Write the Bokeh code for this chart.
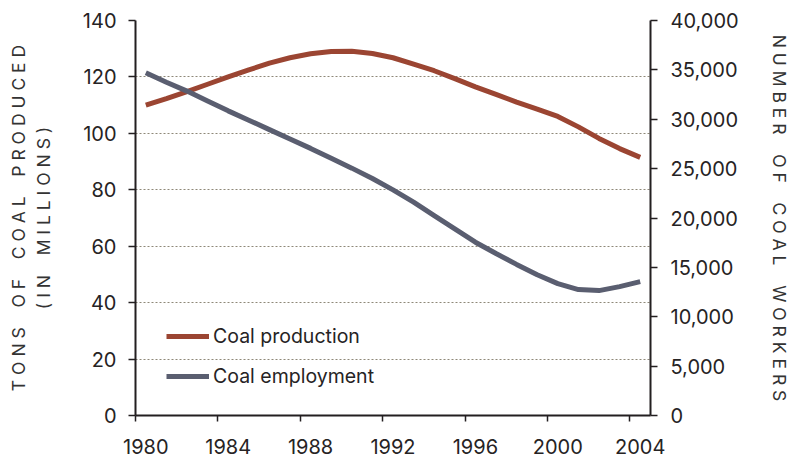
from bokeh.plotting import figure
from bokeh.models import Range1d, LinearAxis, FixedTicker, NumeralTickFormatter
from bokeh.embed import file_html
from bokeh.resources import INLINE

# ---- data ----
years = list(range(1980, 2005))
production = [110.0, 112.3, 114.8, 117.4, 120.0, 122.5, 124.9, 126.8, 128.2, 129.0,
              129.1, 128.3, 126.8, 124.5, 122.2, 119.4, 116.5, 113.8, 111.1, 108.6,
              106.0, 102.3, 98.2, 94.6, 91.5]
employment = [34700, 33750, 32850, 31850, 30850, 29900, 28950, 28000, 27050, 26050,
              25050, 24000, 22850, 21600, 20250, 18900, 17550, 16400, 15300, 14250,
              13350, 12750, 12650, 13050, 13550]
x_ticks = [1980, 1984, 1988, 1992, 1996, 2000, 2004]
left_ticks = [0, 20, 40, 60, 80, 100, 120, 140]
right_ticks = [0, 5000, 10000, 15000, 20000, 25000, 30000, 35000, 40000]
series_names = ["Coal production", "Coal employment"]
left_title_words = [["TONS", "OF", "COAL", "PRODUCED"], ["(IN", "MILLIONS)"]]
right_title_words = ["NUMBER", "OF", "COAL", "WORKERS"]

NB = "\u00a0"


def spaced(words):
    return (NB * 4).join(NB.join(w) for w in words)


left_title = "\n".join(spaced(line) for line in left_title_words)
right_title = spaced(right_title_words)

FONT = "Inter"
TXT = "#262324"
AX = "#231f20"
RED = "#9b4532"
BLUE = "#5a5e70"

p = figure(width=800, height=460, output_backend="svg", toolbar_location=None,
           x_range=Range1d(1979.5, 2004.5), y_range=Range1d(0, 140),
           min_border_left=135, min_border_right=150, min_border_top=20,
           min_border_bottom=45)
p.extra_y_ranges = {"emp": Range1d(0, 40000)}
p.outline_line_color = None
p.background_fill_color = "white"
p.border_fill_color = "white"

# grid
p.xgrid.visible = False
p.ygrid.ticker = FixedTicker(ticks=left_ticks)
p.ygrid.grid_line_color = "#8e8878"
p.ygrid.grid_line_dash = "2 2"
p.ygrid.grid_line_width = 1

# x axis
xa = p.xaxis[0]
xa.ticker = FixedTicker(ticks=x_ticks, minor_ticks=[t - 0.5 for t in x_ticks])
xa.major_tick_out = 0
xa.major_tick_in = 0
xa.minor_tick_out = 6
xa.minor_tick_in = 0
xa.minor_tick_line_color = AX
xa.minor_tick_line_width = 1.5

# left axis
ya = p.yaxis[0]
ya.ticker = FixedTicker(ticks=left_ticks)
ya.major_tick_out = 7
ya.major_tick_in = 0
ya.minor_tick_out = 0
ya.minor_tick_in = 0
ya.axis_label = left_title
ya.axis_label_standoff = 26

# right axis
ra = LinearAxis(y_range_name="emp", ticker=FixedTicker(ticks=right_ticks),
                formatter=NumeralTickFormatter(format="0,0"))
ra.major_tick_out = 7
ra.major_tick_in = 0
ra.minor_tick_out = 0
ra.minor_tick_in = 0
ra.axis_label = right_title
ra.axis_label_standoff = 27
p.add_layout(ra, "right")

for ax in [xa, ya, ra]:
    ax.axis_line_color = AX
    ax.axis_line_width = 2
    ax.major_tick_line_color = AX
    ax.major_tick_line_width = 1.5
    ax.major_label_text_font = FONT
    ax.major_label_text_font_size = "20px"
    ax.major_label_text_color = TXT
    ax.axis_label_text_font = FONT
    ax.axis_label_text_font_size = "17.5px"
    ax.axis_label_text_font_style = "normal"
    ax.axis_label_text_color = "#333"
ya.major_label_standoff = 12
ra.major_label_standoff = 13
xa.major_label_standoff = 17

# lines
p.line(years, production, line_color=RED, line_width=5, legend_label=series_names[0])
p.line(years, employment, line_color=BLUE, line_width=5, y_range_name="emp",
       legend_label=series_names[1])

lg = p.legend[0]
lg.location = (31, 27)
lg.background_fill_alpha = 0
lg.border_line_color = None
lg.padding = 0
lg.margin = 0
lg.spacing = 16
lg.glyph_width = 43
lg.glyph_height = 20
lg.label_height = 20
lg.label_standoff = 4
lg.label_text_font = FONT
lg.label_text_font_size = "19.5px"
lg.label_text_color = TXT

open("out.html", "w").write(file_html(p, INLINE))
